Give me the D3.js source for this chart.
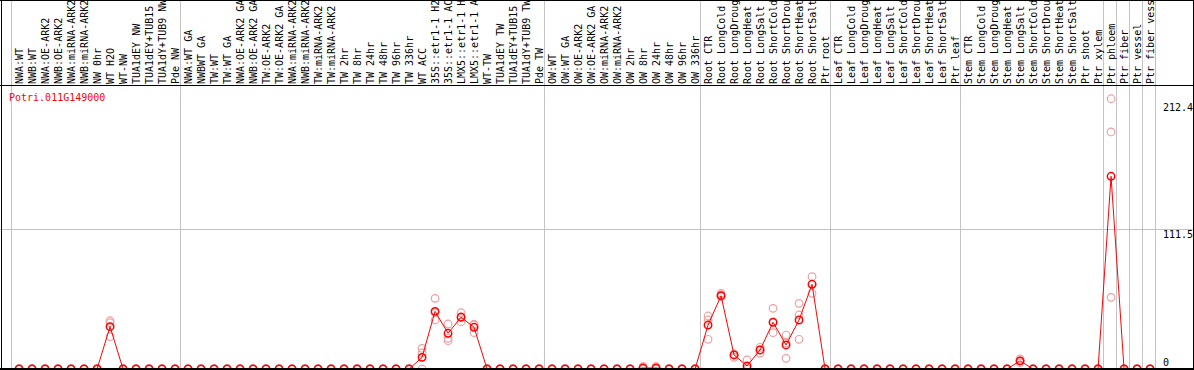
<!DOCTYPE html>
<html>
<head>
<meta charset="utf-8">
<script src="https://cdn.jsdelivr.net/npm/d3@7/dist/d3.min.js"></script>
<style>
  html, body { margin: 0; padding: 0; background: #fff; }
  svg { display: block; }
  text { font-family: "DejaVu Sans Mono", monospace; font-size: 10px; }
</style>
</head>
<body>
<script>
// ---------------- DATA ----------------
const geneName = "Potri.011G149000";

const categories = [
  "NWA:WT","NWB:WT","NWA:OE-ARK2","NWB:OE-ARK2","NWA:miRNA-ARK2","NWB:miRNA-ARK2","NW 0hr","WT H2O","WT-NW","TUA1dEY NW","TUA1dEY+TUB15 NW","TUA1dY+TUB9 NW","Pde NW",
  "NWA:WT GA","NWBWT GA","TW:WT","TW:WT GA","NWA:OE-ARK2 GA","NWB:OE-ARK2 GA","TW:OE-ARK2","TW:OE-ARK2 GA","NWA:miRNA-ARK2 GA","NWB:miRNA-ARK2 GA","TW:miRNA-ARK2","TW:miRNA-ARK2 GA",
  "TW 2hr","TW 8hr","TW 24hr","TW 48hr","TW 96hr","TW 336hr","WT ACC","35S::etr1-1 H2O","35S::etr1-1 ACC","LMX5::etr1-1 H2O","LMX5::etr1-1 ACC","WT-TW","TUA1dEY TW","TUA1dEY+TUB15 TW","TUA1dY+TUB9 TW","Pde TW",
  "OW:WT","OW:WT GA","OW:OE-ARK2","OW:OE-ARK2 GA","OW:miRNA-ARK2","OW:miRNA-ARK2 GA","OW 2hr","OW 8hr","OW 24hr","OW 48hr","OW 96hr","OW 336hr",
  "Root CTR","Root LongCold","Root LongDrought","Root LongHeat","Root LongSalt","Root ShortCold","Root ShortDrought","Root ShortHeat","Root ShortSalt","Ptr root",
  "Leaf CTR","Leaf LongCold","Leaf LongDrought","Leaf LongHeat","Leaf LongSalt","Leaf ShortCold","Leaf ShortDrought","Leaf ShortHeat","Leaf ShortSalt","Ptr leaf",
  "Stem CTR","Stem LongCold","Stem LongDrought","Stem LongHeat","Stem LongSalt","Stem ShortCold","Stem ShortDrought","Stem ShortHeat","Stem ShortSalt","Ptr shoot","Ptr xylem",
  "Ptr phloem","Ptr fiber","Ptr vessel","Ptr fiber vessel"
];

// number of categories in each separated group
const groupSizes = [13, 28, 12, 10, 10, 11, 1, 1, 1, 1];

// mean expression per category
const meanValues = [
  0,0,0,0,0,0,0,33.8,0,0,0,0,0,
  0,0,0,0,0,0,0,0,0,0,0,0,
  0,0,0,0,0,0,9.3,46.0,28.5,41.3,33.3,0,0,0,0,0,
  0,0,0,0,0,0,0,0.8,0.8,0,0,0,
  35.1,58.5,11.2,2.4,15.2,37.3,19.2,39.1,67.6,0,
  0,0,0,0,0,0,0,0,0,0,
  0,0,0,0,6.5,0,0,0,0,0,0,
  153.8,0,0,0
];

// replicate values
const rep1 = [
  0,0,0,0,0,0,0,38.5,0,0,0,0,0,
  0,0,0,0,0,0,0,0,0,0,0,0,
  0,0,0,0,0,0,16.5,56.4,35.9,44.9,35.7,0,0,0,0,0,
  0,0,0,0,0,0,0,2.0,2.0,0,0,0,
  42.3,60.4,12.0,7.2,17.3,48.4,27.1,52.4,73.7,0,
  0,0,0,0,0,0,0,0,0,0,
  0,0,0,0,8.0,0,0,0,0,0,0,
  215.7,0,0,0
];
const rep2 = [
  0,0,0,0,0,0,0,37.0,0,0,0,0,0,
  0,0,0,0,0,0,0,0,0,0,0,0,
  0,0,0,0,0,0,12.8,44.9,24.5,41.7,35.1,0,0,0,0,0,
  0,0,0,0,0,0,0,0.5,0.5,0,0,0,
  39.1,57.7,9.3,0,12.5,29.0,8.5,23.7,60.4,0,
  0,0,0,0,0,0,0,0,0,0,
  0,0,0,0,6.5,0,0,0,0,0,0,
  189.2,0,0,0
];
const rep3 = [
  0,0,0,0,0,0,0,25.8,0,0,0,0,0,
  0,0,0,0,0,0,0,0,0,0,0,0,
  0,0,0,0,0,0,0,39.1,22.6,37.8,29.0,0,0,0,0,0,
  0,0,0,0,0,0,0,0,0,0,0,0,
  23.7,59.3,11.2,0,15.2,37.3,20.8,43.1,67.8,0,
  0,0,0,0,0,0,0,0,0,0,
  0,0,0,0,5.0,0,0,0,0,0,0,
  57.2,0,0,0
];

const yTicks = [0, 111.5, 212.4];

// ---------------- CHART ----------------
const W = 1194, H = 370;
const svg = d3.select("body").append("svg").attr("width", W).attr("height", H);
svg.append("rect").attr("width", W).attr("height", H).attr("fill", "#fff");

const idx = d3.range(categories.length);
const x = d3.scaleBand().domain(idx).range([11, 11 + 13 * categories.length]).paddingInner(0).paddingOuter(0);
const bw = x.bandwidth();
const cx = i => x(i) + bw * 0.62;

const y = d3.scaleLinear().domain([0, 212.4]).range([369, 369 - 212.4 * (139.7 / 111.5)]);

// group boundaries
const bounds = [0];
groupSizes.forEach(s => bounds.push(bounds[bounds.length - 1] + s));
const bx = k => (k < categories.length ? x(k) : x(categories.length - 1) + bw);

svg.append("g").selectAll("line").data(bounds).join("line")
  .attr("x1", k => Math.round(bx(k)) + 0.5).attr("x2", k => Math.round(bx(k)) + 0.5)
  .attr("y1", 0).attr("y2", 369)
  .attr("stroke", "#c4c4c4").attr("stroke-width", 1);

// middle horizontal grid line
svg.append("line")
  .attr("x1", 0).attr("x2", W)
  .attr("y1", Math.round(y(yTicks[1])) + 0.5).attr("y2", Math.round(y(yTicks[1])) + 0.5)
  .attr("stroke", "#c4c4c4");

// header separator
svg.append("line").attr("x1", 0).attr("x2", W).attr("y1", 85.5).attr("y2", 85.5)
  .attr("stroke", "#000");

// category labels (vertical)
svg.append("g").selectAll("text").data(idx).join("text")
  .attr("transform", i => `translate(${x(i) + 11.5},84) rotate(-90)`)
  .attr("fill", "#000")
  .text(i => categories[i]);

// title
svg.append("text").attr("x", 9).attr("y", 101).attr("fill", "#ff0000").text(geneName);

// y axis labels
const yAxis = d3.axisRight(y).tickValues(yTicks).tickSize(0).tickPadding(0)
  .tickFormat(d => String(d));
const ag = svg.append("g").attr("transform", "translate(1163,0)").call(yAxis);
ag.select(".domain").remove();
ag.selectAll("text")
  .attr("font-family", "DejaVu Sans Mono").attr("font-size", 10).attr("fill", "#000")
  .attr("dy", d => d === 0 ? -3.5 : 8);

// data layer clipped to plot area
svg.append("clipPath").attr("id", "plotclip")
  .append("rect").attr("x", 0).attr("y", 86).attr("width", W).attr("height", 282);
const plot = svg.append("g").attr("clip-path", "url(#plotclip)");

// replicates
const reps = [rep1, rep2, rep3];
reps.forEach(r => {
  plot.append("g").selectAll("circle").data(idx).join("circle")
    .attr("cx", i => cx(i)).attr("cy", i => y(r[i])).attr("r", 3.8)
    .attr("fill", "none").attr("stroke", "#f0a0a0").attr("stroke-width", 1.2);
});

// mean line
plot.append("path").datum(idx)
  .attr("d", d3.line().x(i => cx(i)).y(i => y(meanValues[i])))
  .attr("fill", "none").attr("stroke", "#ff0000").attr("stroke-width", 1);

// mean circles
plot.append("g").selectAll("circle").data(idx).join("circle")
  .attr("cx", i => cx(i)).attr("cy", i => y(meanValues[i])).attr("r", 3.7)
  .attr("fill", "none").attr("stroke", "#ff0000").attr("stroke-width", 1.5);

// borders
svg.append("line").attr("x1", 0).attr("x2", W).attr("y1", 0.5).attr("y2", 0.5).attr("stroke", "#000");
svg.append("line").attr("x1", 0).attr("x2", W).attr("y1", 369).attr("y2", 369).attr("stroke", "#000").attr("stroke-width", 2);
svg.append("line").attr("x1", 1.5).attr("x2", 1.5).attr("y1", 0).attr("y2", H).attr("stroke", "#000");
svg.append("line").attr("x1", 1193.5).attr("x2", 1193.5).attr("y1", 0).attr("y2", H).attr("stroke", "#000");
</script>
</body>
</html>
